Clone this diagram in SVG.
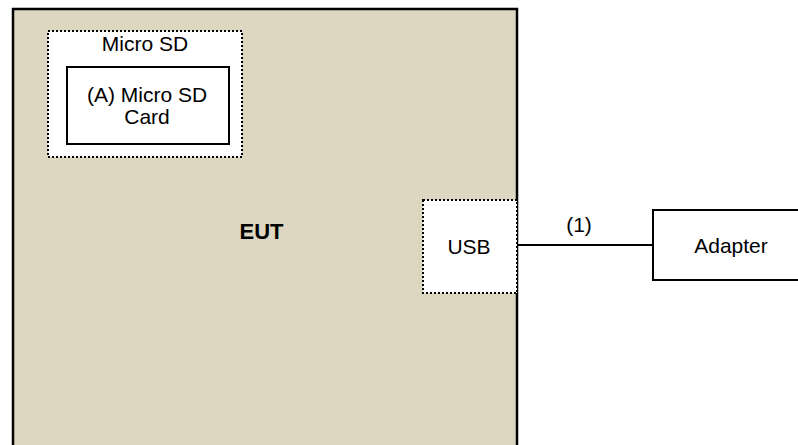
<svg xmlns="http://www.w3.org/2000/svg" width="798" height="445" viewBox="0 0 798 445">
<style>
text{font-family:"Liberation Sans",Arial,sans-serif;font-size:21px;fill:#000;text-anchor:middle}
.dot{fill:#fff;stroke:#000;stroke-width:2;stroke-dasharray:2 2}
.solid{fill:#fff;stroke:#000;stroke-width:2}
</style>
<g id="eut">
<rect x="13" y="9" width="504" height="445" fill="#DDD7C2" stroke="#000" stroke-width="2.5"/>
<text x="261.5" y="239" style="font-weight:bold;font-size:22px">EUT</text>
</g>
<g id="microsd">
<rect class="dot" x="48" y="31" width="194" height="126"/>
<text x="145" y="51">Micro SD</text>
</g>
<g id="card">
<rect class="solid" x="67" y="67" width="162" height="77"/>
<text x="147" y="102">(A) Micro SD</text>
<text x="147" y="124">Card</text>
</g>
<g id="usb">
<rect class="dot" x="423" y="200" width="94" height="93"/>
<text x="469" y="254">USB</text>
</g>
<g id="adapter">
<rect class="solid" x="653" y="210" width="146" height="70"/>
<text x="731" y="253">Adapter</text>
</g>
<g id="connectors">
<line x1="517" y1="245" x2="653" y2="245" stroke="#000" stroke-width="2"/>
<text x="579" y="232">(1)</text>
</g>
</svg>
